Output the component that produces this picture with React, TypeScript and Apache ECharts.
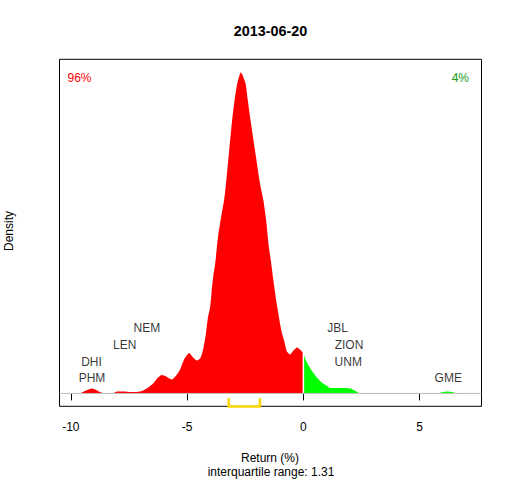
import React, { useEffect, useRef } from "react";
import * as echarts from "echarts";

const FONT = "'Liberation Sans', Arial, sans-serif";

// Kernel density of returns (%)
const returns = [
  -9.81, -9.6, -9.34, -9.09, -8.87, -8.61, -8.31, -8.13, -8.01, -7.71, -7.45, -7.15,
  -6.89, -6.67, -6.46, -6.29, -6.09, -5.9, -5.66, -5.47, -5.3, -5.13, -4.91, -4.74,
  -4.58, -4.44, -4.37, -4.3, -4.19, -4.11, -4.01, -3.94, -3.87, -3.79, -3.72, -3.65,
  -3.58, -3.51, -3.41, -3.33, -3.19, -3.05, -2.94, -2.84, -2.69, -2.49, -2.39, -2.29,
  -2.08, -1.86, -1.72, -1.6, -1.5, -1.4, -1.29, -1.17, -1.07, -1.0, -0.93, -0.83,
  -0.71, -0.57, -0.43, -0.26, -0.11, 0, 0.15, 0.36, 0.58, 0.79, 1.01, 1.15, 1.58,
  2.01, 2.22, 2.44, 5.8, 6.0, 6.18, 6.39, 6.59, 6.97,
];
const density = [
  0, 0.0004, 0.0043, 0.0071, 0.0043, 0.0004, 0.0003, 0.0011, 0.0029, 0.0029, 0.0021, 0.0021,
  0.0043, 0.0086, 0.0143, 0.0214, 0.0264, 0.0243, 0.02, 0.0257, 0.0343, 0.0486, 0.0579, 0.0514,
  0.0471, 0.05, 0.0557, 0.0643, 0.0857, 0.1071, 0.1229, 0.1471, 0.1686, 0.1857, 0.2086, 0.2286,
  0.2429, 0.2571, 0.2757, 0.2986, 0.3471, 0.3943, 0.4229, 0.4429, 0.4586, 0.4429, 0.4186, 0.3943,
  0.3471, 0.2986, 0.2757, 0.2471, 0.2129, 0.19, 0.1614, 0.1329, 0.1129, 0.0986, 0.0871, 0.0757,
  0.06, 0.0557, 0.0614, 0.0657, 0.0614, 0.0579, 0.0443, 0.0329, 0.0229, 0.0157, 0.011, 0.0076, 0.0076,
  0.0071, 0.0039, 0.0003, 0.0003, 0.0021, 0.0029, 0.0021, 0.0003, 0,
];

const xTicks = [-10, -5, 0, 5];
const xRange = [-10.486, 7.658];
const peakDensity = 0.4586;

const stockNames = ["DHI", "PHM", "LEN", "NEM", "JBL", "ZION", "UNM", "GME"];
const stockX = [-9.11, -9.09, -7.68, -6.73, 1.47, 1.96, 1.93, 6.23];
const stockY = [0.0447, 0.0219, 0.0696, 0.0933, 0.0933, 0.0696, 0.0447, 0.0219];

const iqr = [-3.21, -1.87];
const iqrText = "interquartile range: 1.31";
const title = "2013-06-20";
const pctBelow = "96%";
const pctAbove = "4%";

export default function App() {
  const ref = useRef<HTMLDivElement>(null);
  useEffect(() => {
    if (!ref.current) return;
    const chart = echarts.init(ref.current, undefined, { renderer: "svg" });
    const pts = returns.map((x, i) => [x, density[i]]);
    const red = pts.filter((p) => p[0] <= 0);
    const green = pts.filter((p) => p[0] >= 0);
    const d0 = density[returns.indexOf(0)];
    const yMin = -0.04 * peakDensity;
    const yMax = 1.04 * peakDensity;
    const capTop = -0.015 * peakDensity;
    const capBot = -0.0405 * peakDensity;

    chart.setOption({
      animation: false,
      grid: {
        left: 59.5,
        right: 30.5,
        top: 59.3,
        bottom: 73.7,
        show: true,
        borderColor: "#000",
        borderWidth: 1,
        backgroundColor: "transparent",
      },
      xAxis: {
        type: "value",
        min: xRange[0],
        max: xRange[1],
        axisLine: { show: false },
        splitLine: { show: false },
        axisTick: {
          show: true,
          customValues: xTicks,
          length: 7,
          lineStyle: { color: "#000", width: 1 },
        },
        axisLabel: {
          customValues: xTicks,
          margin: 15,
          fontSize: 12,
          color: "#000",
          fontFamily: FONT,
        },
      },
      yAxis: {
        type: "value",
        min: yMin,
        max: yMax,
        show: false,
        splitLine: { show: false },
      },
      series: [
        {
          type: "line",
          data: red,
          showSymbol: false,
          smooth: 0.2,
          lineStyle: { width: 0 },
          itemStyle: { color: "#FF0000" },
          areaStyle: { color: "#FF0000", opacity: 1 },
          z: 2,
        },
        {
          type: "line",
          data: green,
          showSymbol: false,
          smooth: 0.2,
          lineStyle: { width: 0 },
          itemStyle: { color: "#00FF00" },
          areaStyle: { color: "#00FF00", opacity: 1 },
          z: 2,
        },
        {
          type: "line",
          data: [
            [0, 0],
            [0, d0],
          ],
          showSymbol: false,
          lineStyle: { color: "#FFFFFF", width: 1.5 },
          z: 3,
        },
        {
          type: "line",
          data: [
            [xRange[0], 0],
            [xRange[1], 0],
          ],
          showSymbol: false,
          lineStyle: { color: "#BEBEBE", width: 1 },
          z: 4,
        },
        {
          type: "line",
          data: [
            [iqr[0], capTop],
            [iqr[0], capBot],
            [iqr[1], capBot],
            [iqr[1], capTop],
          ],
          showSymbol: false,
          clip: false,
          lineStyle: { color: "#FFD700", width: 2.5, join: "miter" },
          z: 5,
        },
        {
          type: "scatter",
          data: stockNames.map((n, i) => ({ name: n, value: [stockX[i], stockY[i]] })),
          symbolSize: 1,
          itemStyle: { color: "rgba(0,0,0,0)" },
          label: {
            show: true,
            position: "inside",
            formatter: (p: any) => p.name,
            fontSize: 12,
            color: "#000",
            fontFamily: FONT,
          },
          z: 6,
        },
      ],
      graphic: [
        {
          type: "text",
          x: 270.5,
          y: 31,
          style: {
            text: title,
            fontSize: 14.4,
            fontWeight: "bold",
            fontFamily: FONT,
            fill: "#000",
            align: "center",
            verticalAlign: "middle",
          },
        },
        {
          type: "text",
          x: 67.5,
          y: 78,
          style: {
            text: pctBelow,
            fontSize: 12,
            fontFamily: FONT,
            fill: "#FF0000",
            align: "left",
            verticalAlign: "middle",
          },
        },
        {
          type: "text",
          x: 469,
          y: 78,
          style: {
            text: pctAbove,
            fontSize: 12,
            fontFamily: FONT,
            fill: "#1A9E1A",
            align: "right",
            verticalAlign: "middle",
          },
        },
        {
          type: "text",
          x: 8.5,
          y: 231,
          rotation: Math.PI / 2,
          style: {
            text: "Density",
            fontSize: 12,
            fontFamily: FONT,
            fill: "#000",
            align: "center",
            verticalAlign: "middle",
          },
        },
        {
          type: "text",
          x: 270,
          y: 458,
          style: {
            text: "Return (%)",
            fontSize: 12,
            fontFamily: FONT,
            fill: "#000",
            align: "center",
            verticalAlign: "middle",
          },
        },
        {
          type: "text",
          x: 271,
          y: 472,
          style: {
            text: iqrText,
            fontSize: 12,
            fontFamily: FONT,
            fill: "#000",
            align: "center",
            verticalAlign: "middle",
          },
        },
      ],
    });
    return () => chart.dispose();
  }, []);
  return (
    <div
      ref={ref}
      style={{ position: "absolute", left: 0, top: 0, width: 512, height: 480 }}
    />
  );
}
